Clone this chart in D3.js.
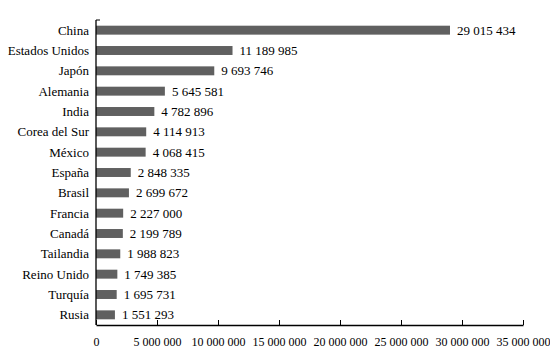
<!DOCTYPE html>
<html>
<head>
<meta charset="utf-8">
<script src="https://cdn.jsdelivr.net/npm/d3@7"></script>
<style>
  body { margin: 0; background: #fff; }
  svg text { font-family: "Liberation Serif", "DejaVu Serif", serif !important; fill: #000; }
</style>
</head>
<body>
<div id="chart"></div>
<script>
// Data
const countries = ['China', 'Estados Unidos', 'Japón', 'Alemania', 'India', 'Corea del Sur', 'México',
  'España', 'Brasil', 'Francia', 'Canadá', 'Tailandia', 'Reino Unido', 'Turquía', 'Rusia'];
const values = [29015434, 11189985, 9693746, 5645581, 4782896, 4114913, 4068415,
  2848335, 2699672, 2227000, 2199789, 1988823, 1749385, 1695731, 1551293];
const xTicks = [0, 5000000, 10000000, 15000000, 20000000, 25000000, 30000000, 35000000];

const W = 550, H = 356;
const margin = { top: 20, right: 27, bottom: 31, left: 96 };
const width = W - margin.left - margin.right;
const height = H - margin.top - margin.bottom;
const serif = '"Liberation Serif", "DejaVu Serif", serif';

const fmt = v => d3.format(',')(v).replace(/,/g, ' ');

const svg = d3.select('#chart').append('svg')
  .attr('width', W).attr('height', H)
  .attr('font-family', serif);

const g = svg.append('g')
  .attr('transform', `translate(${margin.left},${margin.top})`);

const x = d3.scaleLinear().domain([0, 35000000]).range([0, width]);
const y = d3.scaleBand().domain(countries).range([0, height]).paddingInner(0.56).paddingOuter(0.28);

// Bars
g.selectAll('.bar')
  .data(countries)
  .join('rect')
  .attr('class', 'bar')
  .attr('x', 0)
  .attr('y', d => y(d))
  .attr('width', (d, i) => x(values[i]))
  .attr('height', y.bandwidth())
  .attr('fill', '#606060');

// Value labels
g.selectAll('.val')
  .data(countries)
  .join('text')
  .attr('class', 'val')
  .attr('x', (d, i) => x(values[i]) + 7)
  .attr('y', d => y(d) + y.bandwidth() / 2)
  .attr('dominant-baseline', 'central')
  .attr('font-size', '13px')
  .text((d, i) => fmt(values[i]));

// Category labels
g.selectAll('.cat')
  .data(countries)
  .join('text')
  .attr('class', 'cat')
  .attr('x', -7)
  .attr('y', d => y(d) + y.bandwidth() / 2)
  .attr('text-anchor', 'end')
  .attr('dominant-baseline', 'central')
  .attr('font-size', '13px')
  .text(d => d);

// X axis (ticks point up)
const xAxis = g.append('g')
  .attr('transform', `translate(0,${height})`)
  .call(d3.axisBottom(x).tickValues(xTicks).tickSize(0).tickPadding(12).tickFormat(fmt));
xAxis.attr('font-family', serif);
xAxis.select('.domain').attr('stroke', '#000').attr('stroke-width', 1.3);
xAxis.selectAll('.tick line').attr('y2', -5).attr('stroke', '#000');
xAxis.selectAll('.tick text')
  .attr('font-size', '12px');

// Y axis line
g.append('line')
  .attr('x1', 0).attr('x2', 0).attr('y1', 0).attr('y2', height)
  .attr('stroke', '#000').attr('stroke-width', 1.3);
g.append('line')
  .attr('x1', 0).attr('x2', 4).attr('y1', 0).attr('y2', 0)
  .attr('stroke', '#000');
</script>
</body>
</html>
